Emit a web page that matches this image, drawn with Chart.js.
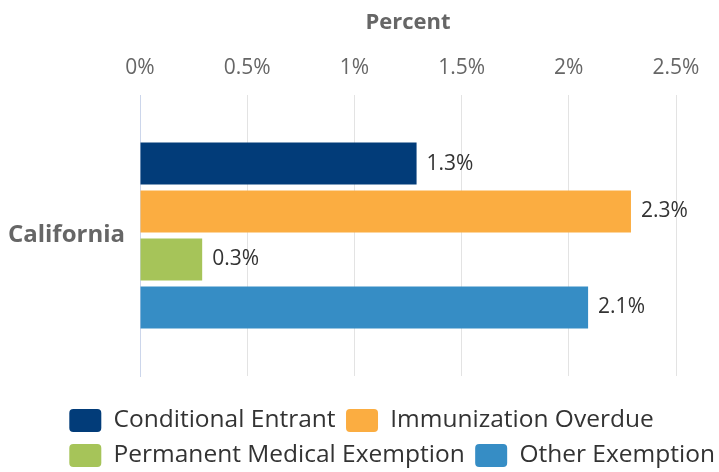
<!DOCTYPE html>
<html>
<head>
<meta charset="utf-8">
<script src="https://cdn.jsdelivr.net/npm/chart.js@4/dist/chart.umd.min.js"></script>
<style>
  html, body { margin: 0; padding: 0; background: #ffffff; overflow: hidden; }
  #wrap { width: 719px; height: 472px; position: relative; overflow: hidden; }
</style>
</head>
<body>
<div id="wrap"><canvas id="c"></canvas></div>
<script>
// ---- data ----
const categories = ['California'];
const seriesNames = ['Conditional Entrant', 'Immunization Overdue', 'Permanent Medical Exemption', 'Other Exemption'];
const conditionalEntrant = [1.29];
const immunizationOverdue = [2.29];
const permanentMedicalExemption = [0.29];
const otherExemption = [2.09];
const tickLabels = ['0%', '0.5%', '1%', '1.5%', '2%', '2.5%'];
const axisTitle = 'Percent';

// ---- chart ----
Chart.defaults.font.family = "'Open Sans', sans-serif";

const seriesValues = [conditionalEntrant, immunizationOverdue, permanentMedicalExemption, otherExemption];
const seriesColors = ['#023c79', '#fbad41', '#a6c459', '#368dc5'];

const valueLabels = {
  id: 'valueLabels',
  afterDatasetsDraw(chart) {
    const ctx = chart.ctx;
    ctx.save();
    ctx.font = "21px 'Open Sans', sans-serif";
    ctx.fillStyle = '#333333';
    ctx.textAlign = 'left';
    ctx.textBaseline = 'middle';
    chart.data.datasets.forEach((ds, di) => {
      const meta = chart.getDatasetMeta(di);
      meta.data.forEach((bar, i) => {
        ctx.fillText(ds.data[i].toFixed(1) + '%', bar.x + 10, bar.y);
      });
    });
    ctx.restore();
  }
};

const legendPlacement = {
  id: 'legendPlacement',
  beforeDraw(chart) {
    const lg = chart.legend;
    if (!lg) return;
    lg.left = 58.8;
    lg.right = 58.8 + chart.width;
    lg.top = 397.75;
    lg.bottom = chart.height;
  }
};

new Chart(document.getElementById('c'), {
  type: 'bar',
  data: {
    labels: categories,
    datasets: seriesNames.map((name, i) => ({
      label: name,
      data: seriesValues[i],
      backgroundColor: seriesColors[i],
      borderWidth: 0
    }))
  },
  options: {
    indexAxis: 'y',
    responsive: true,
    maintainAspectRatio: false,
    animation: false,
    events: [],
    layout: { padding: { left: 0, right: 43, top: 0, bottom: 16 } },
    datasets: { bar: { categoryPercentage: 0.683, barPercentage: 0.875 } },
    scales: {
      x: {
        position: 'top',
        min: 0,
        max: 2.5,
        ticks: {
          stepSize: 0.5,
          padding: 14,
          color: '#666666',
          font: { size: 21 },
          maxRotation: 0,
          autoSkip: false,
          callback: (v, i) => tickLabels[i]
        },
        grid: {
          color: (c) => c.index === 0 ? '#ccd6eb' : '#e3e3e3',
          drawTicks: false
        },
        border: { display: false },
        title: {
          display: true,
          text: axisTitle,
          color: '#666666',
          font: { size: 22, weight: 'bold' },
          padding: { top: 10, bottom: 0 }
        },
        afterFit: (s) => { s.height = 95; }
      },
      y: {
        grid: { display: false, drawTicks: false },
        border: { display: true, color: '#ccd6eb' },
        ticks: {
          padding: 15,
          color: '#666666',
          font: { size: 24, weight: 'bold' }
        },
        afterFit: (s) => { s.width = 140; }
      }
    },
    plugins: {
      legend: {
        position: 'bottom',
        align: 'start',
        labels: {
          boxWidth: 32,
          boxHeight: 23,
          padding: 10.5,
          color: '#333333',
          font: { size: 24.5 },
          useBorderRadius: true,
          borderRadius: 4
        }
      },
      tooltip: { enabled: false }
    }
  },
  plugins: [valueLabels, legendPlacement]
});
</script>
</body>
</html>
